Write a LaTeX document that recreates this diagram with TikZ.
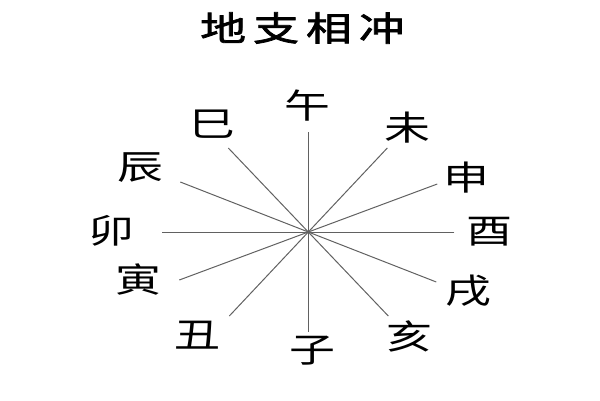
\documentclass[tikz,border=0pt]{standalone}
\usepackage{fontspec}
\newfontfamily\cjk[FakeStretch=1.35]{Noto Sans CJK SC}
\newfontfamily\cjkhead[FakeStretch=1.35, FakeBold=2.2]{Noto Sans CJK SC}
\tikzset{
  zhi/.style={font=\cjk\fontsize{34}{34}\selectfont, inner sep=0pt},
  chong/.style={draw=black!62, line width=1pt}
}
\begin{document}
\begin{tikzpicture}[x=1pt,y=-1pt]
\useasboundingbox (0,0) rectangle (600,400);
\node[zhi, font=\cjkhead\fontsize{34}{34}\selectfont] (title) at (302.5,28) {地\kern7pt 支\kern7pt 相\kern7pt 冲};
% the six clashing pairs
\begin{scope}[shift={(308.3,232)}]
\coordinate (o) at (0,0);
\foreach \a/\b/\x/\y in {wu/zi/0/-100, wei/chou/79/-84, shen/yin/129/-48,
    you/mao/146/0, xu/chen/128/50, hai/si/80/84} {
  \coordinate (\a end) at (\x,\y);
  \coordinate (\b end) at (-\x,-\y);
  \draw[chong] (\a end) -- (\b end);
}
\end{scope}
\node[zhi] (wu) at (307.5,106) {午};
\node[zhi] (wei) at (407.5,127.5) {未};
\node[zhi] (shen) at (466.5,177.5) {申};
\node[zhi] (you) at (489,232) {酉};
\node[zhi] (xu) at (468.5,291) {戌};
\node[zhi] (hai) at (409,336.5) {亥};
\node[zhi] (zi) at (312,351) {子};
\node[zhi] (chou) at (197,335) {丑};
\node[zhi] (yin) at (138,280) {寅};
\node[zhi] (mao) at (111,231) {卯};
\node[zhi] (chen) at (140,168) {辰};
\node[zhi] (si) at (212,124) {巳};
\end{tikzpicture}
\end{document}
